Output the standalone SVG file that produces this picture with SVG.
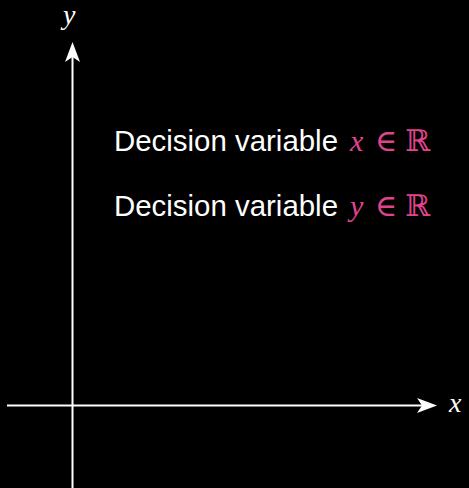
<svg xmlns="http://www.w3.org/2000/svg" width="469" height="488" viewBox="0 0 469 488">
<style>
.ax{stroke:#fff;stroke-width:2;fill:none}
.head{fill:#fff}
.txt{font-family:"Liberation Sans",Arial,sans-serif;font-size:29px;fill:#fff}
.m{font-family:"Liberation Serif","DejaVu Serif",serif;font-size:30px;fill:#e0448f}
.mi{font-style:italic}
.lab{font-family:"Liberation Serif","DejaVu Serif",serif;font-style:italic;font-size:28px;fill:#fff}
</style>
<rect width="469" height="488" fill="#000"/>
<g id="connectors">
<line class="ax" x1="72.5" y1="488" x2="72.5" y2="50"/>
<path class="head" d="M72.5,42 L80,62 L72.5,57 L65,62 Z"/>
<line class="ax" x1="7" y1="405.5" x2="428" y2="405.5"/>
<path class="head" d="M437,405.5 L417,398 L422,405.5 L417,413 Z"/>
</g>
<g id="axis-y-label"><text class="lab" x="63" y="24">y</text></g>
<g id="axis-x-label"><text class="lab" x="449" y="412">x</text></g>
<g id="line1">
<text class="txt" x="114" y="151" textLength="224" lengthAdjust="spacingAndGlyphs">Decision variable</text>
<text class="m mi" x="350" y="151">x</text>
<text class="m" x="375" y="151">∈</text>
<text class="m" x="405" y="151" font-family="DejaVu Serif">ℝ</text>
</g>
<g id="line2">
<text class="txt" x="114" y="216" textLength="224" lengthAdjust="spacingAndGlyphs">Decision variable</text>
<text class="m mi" x="350" y="216">y</text>
<text class="m" x="375" y="216">∈</text>
<text class="m" x="405" y="216" font-family="DejaVu Serif">ℝ</text>
</g>
</svg>
